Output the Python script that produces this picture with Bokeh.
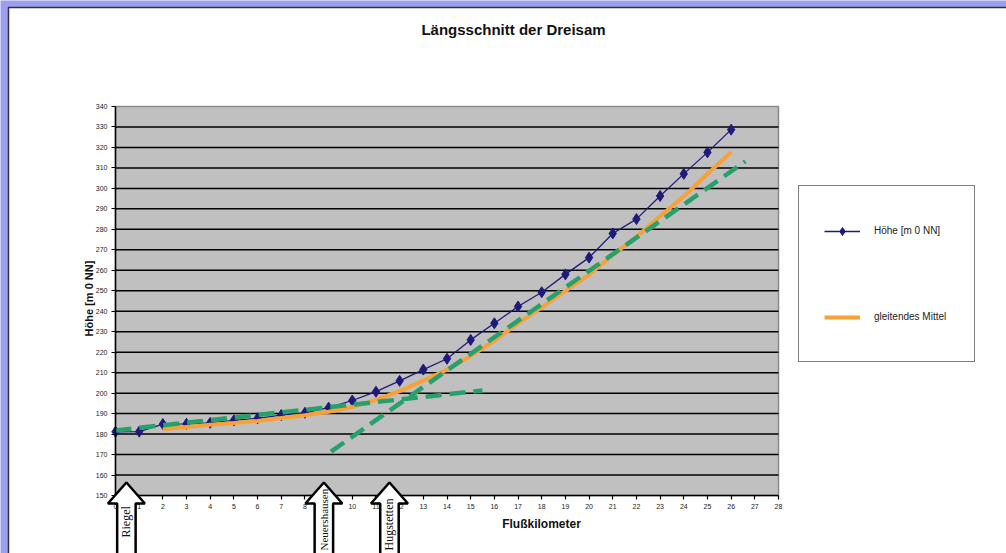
from bokeh.plotting import figure
from bokeh.models import (Range1d, FixedTicker, Legend, LegendItem, Label,
                          PolyAnnotation, BoxAnnotation, LinearAxis)
from bokeh.embed import file_html
from bokeh.resources import INLINE

# ---- data ----
title_text = "Längsschnitt der Dreisam"
y_label = "Höhe [m 0 NN]"
x_label = "Flußkilometer"

km = list(range(0, 27))
hoehe = [181.1, 181.2, 184.9, 185.0, 185.5, 186.7, 187.7, 189.3, 190.4, 192.9,
         196.4, 200.7, 206.0, 211.5, 216.8, 226.0, 234.1, 242.3, 249.3, 258.0,
         266.2, 278.0, 285.0, 296.3, 307.1, 317.6, 328.7]

mittel_km = list(range(2, 27))
mittel = [182.4, 183.5, 184.6, 185.4, 186.4, 187.8, 189.2, 190.9, 193.2, 196.7,
          201.0, 206.1, 211.4, 218.1, 225.6, 234.1, 241.9, 249.9, 257.8, 267.4,
          276.4, 286.4, 296.1, 307.0, 317.8]

trend1_km = [0.0, 15.5]
trend1_h = [181.8, 201.3]
trend2_km = [9.1, 26.6]
trend2_h = [171.4, 313.2]

places = ["Riegel", "Neuershausen", "Hugstetten"]
place_km = [0.46, 8.8, 11.57]

x_min, x_max = 0, 28
y_min, y_max = 150, 340
x_ticks = list(range(0, 29))
y_ticks = list(range(150, 341, 10))
y_grid = y_ticks[1:-1]

# ---- layout (pixels) ----
W, H = 1006, 553
PL, PR, PT, PB = 115, 778, 106, 495     # plot area edges on the page
kpp = (x_max - x_min) / (PR - PL)
upp = (y_max - y_min) / (PB - PT)

NAVY = "#1d1a7c"
ORANGE = "#f7a13a"
GREEN = "#27a06b"
FONT = "Liberation Sans"

p = figure(width=W, height=H, output_backend="svg", toolbar_location=None,
           x_axis_location=None, y_axis_location=None,
           x_range=Range1d(x_min - PL * kpp, x_max + (W - PR) * kpp),
           y_range=Range1d(y_min - (H - PB) * upp, y_max + PT * upp),
           min_border=0, min_border_left=0, min_border_right=0,
           min_border_top=0, min_border_bottom=0,
           background_fill_color="#9c9ef0", border_fill_color="#9c9ef0",
           outline_line_color=None)
p.grid.visible = False

# page frame (white sheet)
p.add_layout(BoxAnnotation(left=8, right=W + 50, bottom=-50, top=H - 7,
                           left_units="screen", right_units="screen",
                           bottom_units="screen", top_units="screen",
                           fill_color="white", fill_alpha=1,
                           line_color="#333333", line_alpha=1, line_width=1.5,
                           level="image"))

# plot area
p.quad(left=[x_min], right=[x_max], bottom=[y_min], top=[y_max],
       fill_color="#c0c0c0", line_color="#8a8a8a", line_width=1.5)
p.segment(x0=[x_min] * len(y_grid), x1=[x_max] * len(y_grid), y0=y_grid, y1=y_grid,
          line_color="black", line_width=1.5)

# axes
yaxis = LinearAxis(fixed_location=x_min, bounds=(y_min, y_max), ticker=FixedTicker(ticks=y_ticks))
xaxis = LinearAxis(fixed_location=y_min, bounds=(x_min, x_max), ticker=FixedTicker(ticks=x_ticks))
for ax in (xaxis, yaxis):
    ax.axis_line_color = "black"
    ax.axis_line_width = 1.5
    ax.major_tick_line_color = "black"
    ax.major_tick_line_width = 1.2
    ax.major_tick_in = 0
    ax.major_tick_out = 4
    ax.minor_tick_line_color = None
    ax.major_label_text_font = FONT
    ax.major_label_text_font_size = "7px"
    ax.major_label_text_color = "#222222"
    ax.major_label_standoff = 4
p.add_layout(yaxis, "left")
p.add_layout(xaxis, "below")

# ---- series ----
blue_line = p.line(km, hoehe, line_color=NAVY, line_width=1.3)
blue_pts = p.scatter(km, hoehe, marker="diamond", size=11,
                     fill_color=NAVY, line_color=NAVY)
orange_line = p.line(mittel_km, mittel, line_color=ORANGE, line_width=4)
p.line(trend1_km, trend1_h, line_color=GREEN, line_width=4.5, line_dash="16 8")
p.line(trend2_km, trend2_h, line_color=GREEN, line_width=4.5, line_dash="16 8")

legend = Legend(items=[LegendItem(label="Höhe [m 0 NN]", renderers=[blue_line, blue_pts]),
                       LegendItem(label="gleitendes Mittel", renderers=[orange_line])],
                location=(798, H - 362), padding=25, spacing=47, margin=0,
                label_height=39, glyph_height=20, glyph_width=36, label_standoff=14,
                label_width=75,
                border_line_color="black", border_line_width=1.2,
                background_fill_color="white", background_fill_alpha=1,
                label_text_font=FONT, label_text_font_size="10px",
                label_text_color="#222222")
p.add_layout(legend)

# ---- titles ----
p.add_layout(Label(x=513, y=H - 29, x_units="screen", y_units="screen", text=title_text,
                   text_align="center", text_baseline="middle",
                   text_font=FONT, text_font_size="15px", text_font_style="bold",
                   text_color="#111111"))
p.add_layout(Label(x=541, y=H - 523, x_units="screen", y_units="screen", text=x_label,
                   text_align="center", text_baseline="middle",
                   text_font=FONT, text_font_size="12px", text_font_style="bold",
                   text_color="#111111"))
p.add_layout(Label(x=88, y=H - 298, x_units="screen", y_units="screen", text=y_label,
                   angle=90, angle_units="deg",
                   text_align="center", text_baseline="middle",
                   text_font=FONT, text_font_size="11px", text_font_style="bold",
                   text_color="#111111"))

# ---- location arrows ----
HW, SW = 0.78, 0.39
label_bottoms = [16, 3, 3]
label_sizes = ["12px", "11px", "12px"]
for name, k, lb, fs in zip(places, place_km, label_bottoms, label_sizes):
    xs = [k, k + HW, k + SW, k + SW, k - SW, k - SW, k - HW]
    ys = [H - 482, H - 503, H - 503, -20, -20, H - 503, H - 503]
    p.add_layout(PolyAnnotation(xs=xs, ys=ys, xs_units="data", ys_units="screen",
                                fill_color="white", fill_alpha=1,
                                line_color="black", line_alpha=1, line_width=2.5))
    p.add_layout(Label(x=k, y=lb, x_units="data", y_units="screen", text=name,
                       angle=90, angle_units="deg", text_align="left",
                       text_baseline="middle", text_font="Liberation Serif",
                       text_font_size=fs, text_color="#111111"))

open("out.html", "w").write(file_html(p, INLINE))
